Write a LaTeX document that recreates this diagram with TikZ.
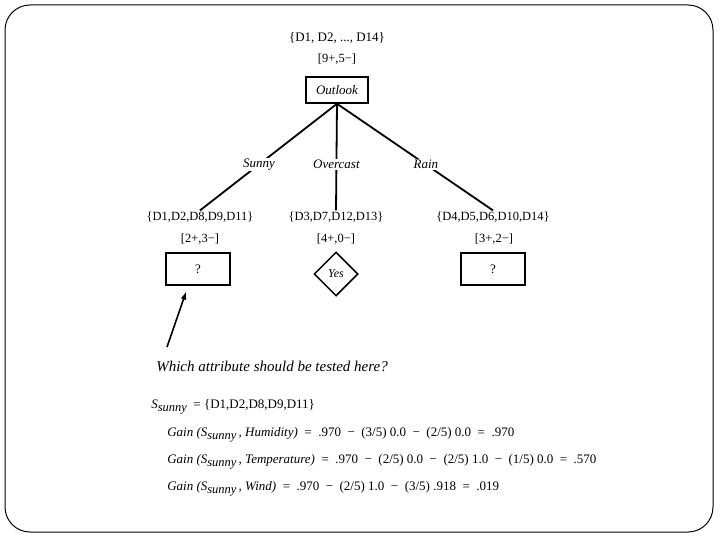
\documentclass[tikz,border=0pt]{standalone}
\usepackage{fontspec}
\setmainfont{Liberation Serif}
\usetikzlibrary{arrows,positioning,shapes.geometric}
\newcommand*{\sub}[1]{\raisebox{-0.45ex}{\fontsize{12.5}{12}\selectfont #1}}

\begin{document}
\begin{tikzpicture}[x=1pt, y=-1pt, semithick, node distance=22pt]
\tikzstyle{every node}=[font=\fontsize{13}{15}\selectfont, inner sep=1pt]
\tikzstyle{test}=[draw=black, line width=1.5pt, minimum width=64pt, minimum height=32pt]
\tikzstyle{leaf}=[diamond, draw=black, line width=1.5pt, inner sep=1pt, minimum size=44pt]
\tikzstyle{branch}=[line width=1.8pt]
\tikzstyle{blabel}=[fill=white, font=\fontsize{13}{15}\selectfont\itshape, inner sep=1pt]
\tikzstyle{dset}=[font=\fontsize{12.5}{15}\selectfont]
\tikzstyle{gain}=[anchor=west, font=\fontsize{13}{15}\selectfont]
\useasboundingbox (0,0) rectangle (720,540);
\draw[line width=1pt, rounded corners=25pt] (5,5) rectangle (713,532);

\node          (all)    at (337,38)      {\{D1, D2, ..., D14\}};
\node[dset]    (allc)   [below=8pt of all]  {[9+,5−]};
\node[test, minimum width=62pt, minimum height=26pt, font=\fontsize{13}{15}\selectfont\itshape] (outlook) at (337,90) {Outlook};

\node[dset]    (sunny)  at (200,217)     {\{D1,D2,D8,D9,D11\}};
\node[dset]    (over)   at (336,217)     {\{D3,D7,D12,D13\}};
\node[dset]    (rain)   at (493,217)     {\{D4,D5,D6,D10,D14\}};
\node[dset]    (sunnyc) at (200,239)     {[2+,3−]};
\node[dset]    (overc)  at (336,239)     {[4+,0−]};
\node[dset]    (rainc)  at (494,239)     {[3+,2−]};

\node[test]    (q1)     at (198,269)     {?};
\node[leaf, font=\fontsize{12}{13}\selectfont\itshape] (yes) at (336,274) {Yes};
\node[test]    (q2)     at (493,269)     {?};

\path[branch]
(outlook.south) edge node[blabel, pos=0.57]{Sunny}    (sunny.north)
                edge node[blabel, pos=0.57]{Overcast} (over.north)
                edge node[blabel, pos=0.57]{Rain}     (rain.north);

\node[anchor=west, font=\fontsize{15}{17}\selectfont\itshape] (ask) at (155,366) {Which attribute should be tested here?};
\coordinate (tail) at (167,347);
\draw[->, >=latex, line width=1.6pt] (tail) -- (186,292);

\node[gain]    (ssun)   at (150,407)     {\textit{S\sub{sunny}}\ \ = \{D1,D2,D8,D9,D11\}};
\node[gain]    (g1)     at (166,435)     {\textit{Gain (S\sub{sunny}\,, Humidity)}\ \ = \ .970 \ − \ (3/5) 0.0 \ − \ (2/5) 0.0 \ = \ .970};
\node[gain]    (g2)     at (166,462)     {\textit{Gain (S\sub{sunny}\,, Temperature)}\ \ = \ .970 \ − \ (2/5) 0.0 \ − \ (2/5) 1.0 \ − \ (1/5) 0.0 \ = \ .570};
\node[gain]    (g3)     at (166,489)     {\textit{Gain (S\sub{sunny}\,, Wind)}\ \ = \ .970 \ − \ (2/5) 1.0 \ − \ (3/5) .918 \ = \ .019};
\end{tikzpicture}
\end{document}
